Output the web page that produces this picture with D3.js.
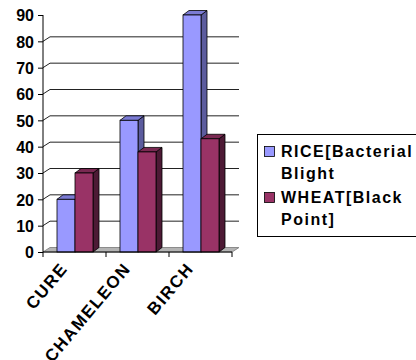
<!DOCTYPE html>
<html>
<head>
<meta charset="utf-8">
<script src="https://cdn.jsdelivr.net/npm/d3@7"></script>
<style>
  body { margin: 0; background: #fff; }
  text { font-family: "Liberation Sans", Arial, sans-serif; font-weight: bold; fill: #000; }
</style>
</head>
<body>
<div id="chart"></div>
<script>
// chart data
const categories = ["CURE", "CHAMELEON", "BIRCH"];
const seriesNames = ["RICE[Bacterial Blight", "WHEAT[Black Point]"];
const legendLines = [["RICE[Bacterial", "Blight"], ["WHEAT[Black", "Point]"]];
const riceValues = [20, 50, 90];
const wheatValues = [30, 38, 43];
const yTicks = [0, 10, 20, 30, 40, 50, 60, 70, 80, 90];

const colors = {
    front: ["#9999ff", "#993366"],
    side: ["#5c5c9e", "#4d1a35"],
    top: ["#7b7bd4", "#7a2952"]
};

const width = 416, height = 360;
// depth offset of the 3d wall / bars
const dx = 7, dy = -4.5;
const bdx = 6, bdy = -4.5;

const svg = d3.select("#chart").append("svg")
    .attr("width", width)
    .attr("height", height);

const x = d3.scaleBand().domain(categories).range([43, 232]).paddingInner(0).paddingOuter(0);
const x1 = d3.scaleBand().domain([0, 1]).range([14, 50]);
const y = d3.scaleLinear().domain([0, 90]).range([252, 15]);

// gridlines on back wall
const grid = svg.append("g");
yTicks.filter(d => d > 0 && d < 90).forEach(v => {
    grid.append("path")
        .attr("d", `M43,${y(v)} L${43 + dx},${y(v) + dy} L${232 + dx},${y(v) + dy}`)
        .attr("fill", "none")
        .attr("stroke", "#222")
        .attr("stroke-width", 1);
});

// floor
svg.append("path")
    .attr("d", `M43,${y(0)} L232,${y(0)} L${232 + dx},${y(0) + dy} L${43 + dx},${y(0) + dy} Z`)
    .attr("fill", "#b3b3b3")
    .attr("stroke", "#8c8c8c")
    .attr("stroke-width", 1);

// bars
const data = [];
categories.forEach((c, i) => {
    data.push({cat: c, s: 0, v: riceValues[i]});
    data.push({cat: c, s: 1, v: wheatValues[i]});
});

const bars = svg.append("g").selectAll("g")
    .data(data)
    .join("g");

bars.append("path")
    .attr("d", d => {
        const x0 = x(d.cat) + x1(d.s), x2 = x0 + x1.bandwidth();
        return `M${x2},${y(d.v)} L${x2 + bdx},${y(d.v) + bdy} L${x2 + bdx},${y(0) + bdy} L${x2},${y(0)} Z`;
    })
    .attr("fill", d => colors.side[d.s])
    .attr("stroke", "#000")
    .attr("stroke-width", 0.8);

bars.append("path")
    .attr("d", d => {
        const x0 = x(d.cat) + x1(d.s), x2 = x0 + x1.bandwidth();
        return `M${x0},${y(d.v)} L${x0 + bdx},${y(d.v) + bdy} L${x2 + bdx},${y(d.v) + bdy} L${x2},${y(d.v)} Z`;
    })
    .attr("fill", d => colors.top[d.s])
    .attr("stroke", "#000")
    .attr("stroke-width", 0.8);

bars.append("rect")
    .attr("x", d => x(d.cat) + x1(d.s))
    .attr("y", d => y(d.v))
    .attr("width", x1.bandwidth())
    .attr("height", d => y(0) - y(d.v))
    .attr("fill", d => colors.front[d.s])
    .attr("stroke", "#000")
    .attr("stroke-width", 0.8);

// y axis
const yAxis = d3.axisLeft(y).tickValues(yTicks).tickSize(5).tickPadding(4);
const yg = svg.append("g")
    .attr("transform", "translate(43,0)")
    .call(yAxis);
yg.select(".domain").attr("stroke", "#000").attr("d", `M-0,${y(90)}V${y(0)}`);
yg.selectAll("text").style("font-size", "16px").attr("dy", "0.36em");

// x axis
const xg = svg.append("g")
    .attr("transform", `translate(0,${y(0)})`);
xg.append("line").attr("x1", 43).attr("x2", 232).attr("stroke", "#000");
[43].concat(categories.map(c => x(c) + x.bandwidth())).forEach(px => {
    xg.append("line").attr("x1", px).attr("x2", px).attr("y1", 0).attr("y2", 5).attr("stroke", "#000");
});
xg.selectAll(".xlab")
    .data(categories)
    .join("text")
    .attr("class", "xlab")
    .attr("transform", d => `translate(${x(d) + x.bandwidth() / 2 - 6},17) rotate(-50)`)
    .attr("text-anchor", "end")
    .style("font-size", "17px")
    .style("letter-spacing", "1.5px")
    .text(d => d);

// legend
const legend = svg.append("g");
legend.append("rect")
    .attr("x", 257.5).attr("y", 134.5)
    .attr("width", 170).attr("height", 102)
    .attr("fill", "#fff")
    .attr("stroke", "#000");

seriesNames.forEach((name, i) => {
    const top = 146 + i * 46;
    legend.append("rect")
        .attr("x", 264.5).attr("y", top + 0.5)
        .attr("width", 10).attr("height", 10)
        .attr("fill", colors.front[i])
        .attr("stroke", "#000")
        .attr("stroke-width", 0.8);
    legend.append("text")
        .attr("x", 281).attr("y", top + 11)
        .style("font-size", "16px")
        .style("letter-spacing", "1.5px")
        .selectAll("tspan")
        .data(legendLines[i])
        .join("tspan")
        .attr("x", 281)
        .attr("dy", (d, j) => j === 0 ? 0 : 22)
        .text(d => d);
});
</script>
</body>
</html>
